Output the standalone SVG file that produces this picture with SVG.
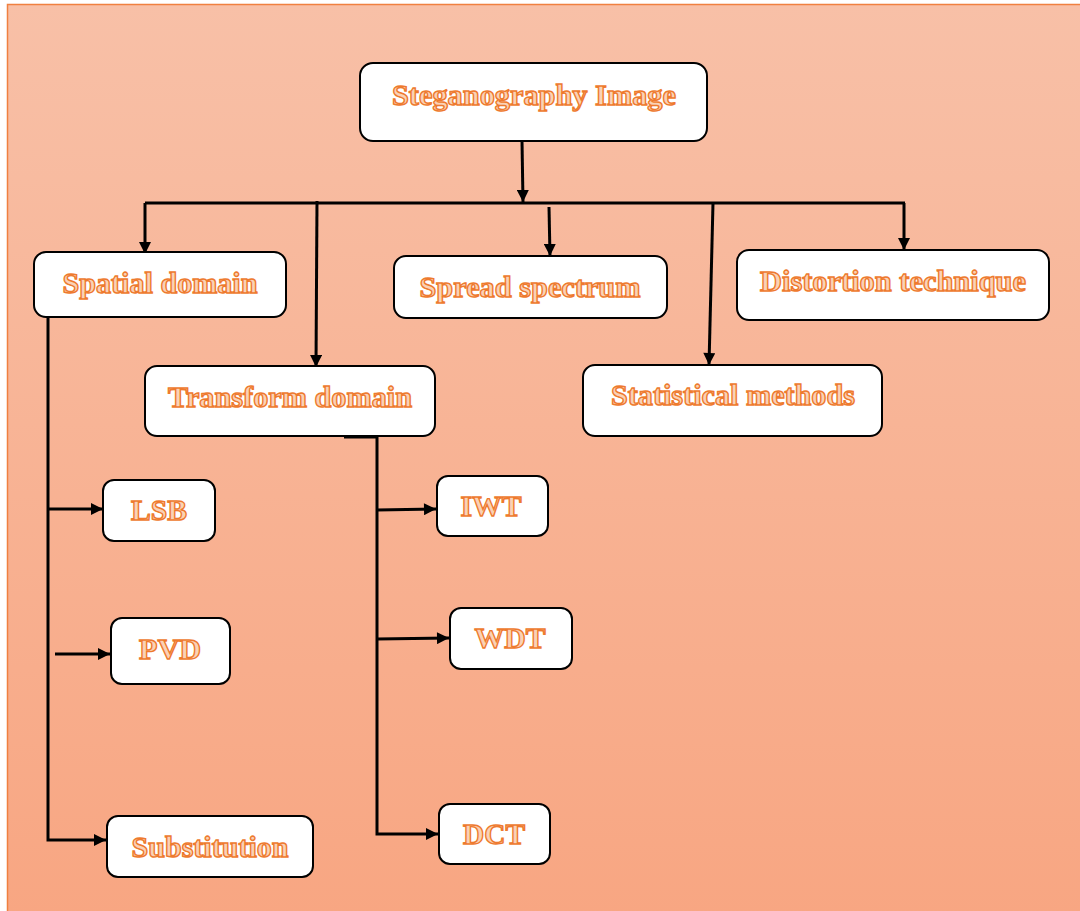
<svg xmlns="http://www.w3.org/2000/svg" width="1080" height="911" viewBox="0 0 1080 911">
<defs>
<linearGradient id="bg" x1="0" y1="0" x2="0" y2="1">
<stop offset="0" stop-color="#F8C0A7"/>
<stop offset="1" stop-color="#F8A682"/>
</linearGradient>
<marker id="ah" viewBox="0 0 12 12" refX="12" refY="6" markerWidth="13" markerHeight="12" markerUnits="userSpaceOnUse" orient="auto">
<path d="M0,0 L12,6 L0,12 Z" fill="#000"/>
</marker>
<style>
.box{fill:#fff;stroke:#000;stroke-width:2}
.lbl{font-family:"Liberation Serif","Times New Roman",serif;font-weight:bold;font-size:30px;fill:#FAD2B6;stroke:#EE7A2E;stroke-width:1.4;text-anchor:middle}
.ln{fill:none;stroke:#000;stroke-width:3}
.ar{fill:none;stroke:#000;stroke-width:3;marker-end:url(#ah)}
</style>
</defs>
<rect x="0" y="0" width="1080" height="911" fill="#fff"/>
<rect x="7.5" y="4.5" width="1080" height="910" fill="url(#bg)" stroke="#F08040" stroke-width="1.5"/>

<g id="connectors">
<line class="ar" x1="522" y1="141" x2="523" y2="202"/>
<line class="ln" x1="145" y1="203" x2="905" y2="203"/>
<line class="ar" x1="145" y1="203" x2="145" y2="254"/>
<line class="ar" x1="317" y1="201" x2="316" y2="367"/>
<line class="ar" x1="549" y1="207" x2="550" y2="256"/>
<line class="ar" x1="713" y1="203" x2="709" y2="365"/>
<line class="ar" x1="904" y1="203" x2="904" y2="250"/>
<polyline class="ar" points="48,317 48,840 106,840"/>
<line class="ar" x1="48" y1="509" x2="103" y2="509"/>
<line class="ar" x1="55" y1="654" x2="110" y2="654"/>
<polyline class="ar" points="344,437 377,437 377,834 438,834"/>
<line class="ar" x1="377" y1="510" x2="436" y2="509"/>
<line class="ar" x1="377" y1="639" x2="449" y2="638"/>
</g>

<g id="n-steg"><rect class="box" x="360" y="63" width="347" height="78" rx="13"/><text class="lbl" x="534" y="105" textLength="284" lengthAdjust="spacingAndGlyphs">Steganography Image</text></g>
<g id="n-spatial"><rect class="box" x="34" y="252" width="252" height="65" rx="12"/><text class="lbl" x="160" y="293" textLength="195" lengthAdjust="spacingAndGlyphs">Spatial domain</text></g>
<g id="n-spread"><rect class="box" x="394" y="256" width="273" height="62" rx="12"/><text class="lbl" x="530" y="297" textLength="221" lengthAdjust="spacingAndGlyphs">Spread spectrum</text></g>
<g id="n-distortion"><rect class="box" x="737" y="250" width="312" height="70" rx="12"/><text class="lbl" x="893" y="291" textLength="266" lengthAdjust="spacingAndGlyphs">Distortion technique</text></g>
<g id="n-transform"><rect class="box" x="145" y="366" width="290" height="70" rx="12"/><text class="lbl" x="290" y="407" textLength="244" lengthAdjust="spacingAndGlyphs">Transform domain</text></g>
<g id="n-statistical"><rect class="box" x="583" y="365" width="299" height="71" rx="12"/><text class="lbl" x="733" y="405" textLength="244" lengthAdjust="spacingAndGlyphs">Statistical methods</text></g>
<g id="n-lsb"><rect class="box" x="103" y="480" width="112" height="61" rx="11"/><text class="lbl" x="159" y="520" textLength="56" lengthAdjust="spacingAndGlyphs">LSB</text></g>
<g id="n-pvd"><rect class="box" x="111" y="618" width="119" height="66" rx="11"/><text class="lbl" x="170" y="659" textLength="62" lengthAdjust="spacingAndGlyphs">PVD</text></g>
<g id="n-subst"><rect class="box" x="107" y="816" width="206" height="61" rx="11"/><text class="lbl" x="210" y="857" textLength="157" lengthAdjust="spacingAndGlyphs">Substitution</text></g>
<g id="n-iwt"><rect class="box" x="437" y="476" width="111" height="60" rx="11"/><text class="lbl" x="491" y="516" textLength="61" lengthAdjust="spacingAndGlyphs">IWT</text></g>
<g id="n-wdt"><rect class="box" x="450" y="608" width="122" height="61" rx="11"/><text class="lbl" x="510" y="648" textLength="71" lengthAdjust="spacingAndGlyphs">WDT</text></g>
<g id="n-dct"><rect class="box" x="439" y="804" width="111" height="60" rx="11"/><text class="lbl" x="494" y="844" textLength="62" lengthAdjust="spacingAndGlyphs">DCT</text></g>
</svg>
